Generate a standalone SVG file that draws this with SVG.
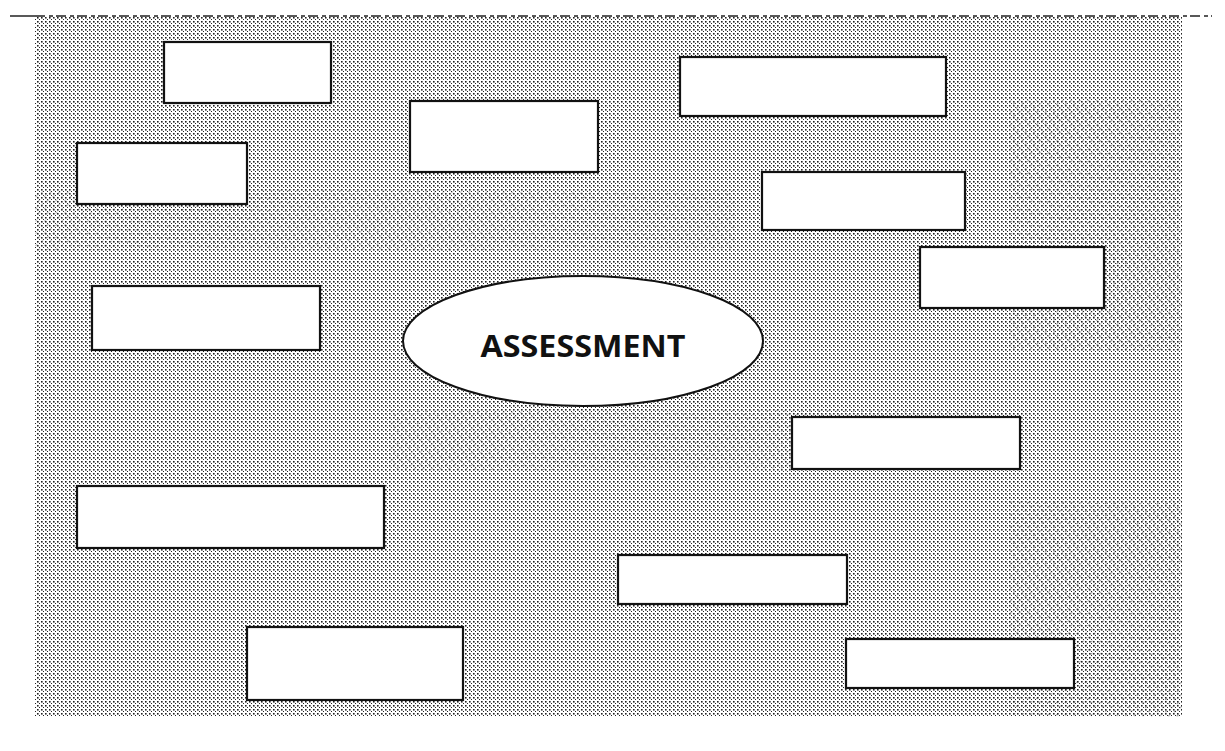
<svg xmlns="http://www.w3.org/2000/svg" width="1225" height="751" viewBox="0 0 1225 751">
  <style>
    .box { fill: #ffffff; stroke: #111111; stroke-width: 2.2; }
    .ell { fill: #ffffff; stroke: #111111; stroke-width: 2; }
    .lbl { font-family: "Open Sans", "Liberation Sans", sans-serif; font-weight: bold; font-size: 30px; fill: #111111; }
  </style>
  <defs>
    <pattern id="dots" x="0" y="0" width="4" height="4" patternUnits="userSpaceOnUse">
      <rect x="1" y="1" width="1.6" height="1.6" fill="#222222"/>
      <rect x="3" y="3" width="1.6" height="1.6" fill="#222222"/>
    </pattern>
    <pattern id="dash" x="0" y="0" width="7" height="5" patternUnits="userSpaceOnUse" patternTransform="rotate(-35)">
      <rect x="0" y="1" width="2.4" height="1.2" fill="#222222"/>
    </pattern>
  </defs>
  <rect width="1225" height="751" fill="#ffffff"/>
  <g id="background">
    <rect x="35" y="17" width="1147" height="700" fill="url(#dots)"/>
    <rect x="1010" y="100" width="172" height="250" fill="url(#dash)" opacity="0.4"/>
    <rect x="1010" y="500" width="172" height="217" fill="url(#dash)" opacity="0.4"/>
    <rect x="35" y="190" width="700" height="60" fill="url(#dash)" opacity="0.3"/>
    <rect x="390" y="410" width="600" height="60" fill="url(#dash)" opacity="0.3"/>
    <line x1="10" y1="16" x2="35" y2="16" stroke="#222222" stroke-width="1.5"/>
    <line x1="35" y1="16" x2="1212" y2="16" stroke="#222222" stroke-width="1.5" stroke-dasharray="10 4 4 3"/>
  </g>
  <g id="connectors"></g>
  <g id="node-1"><rect class="box" x="164" y="42" width="167" height="61"/></g>
  <g id="node-2"><rect class="box" x="410" y="101" width="188" height="71"/></g>
  <g id="node-3"><rect class="box" x="680" y="57" width="266" height="59"/></g>
  <g id="node-4"><rect class="box" x="77" y="143" width="170" height="61"/></g>
  <g id="node-5"><rect class="box" x="762" y="172" width="203" height="58"/></g>
  <g id="node-6"><rect class="box" x="920" y="247" width="184" height="61"/></g>
  <g id="node-7"><rect class="box" x="92" y="286" width="228" height="64"/></g>
  <g id="node-8"><rect class="box" x="792" y="417" width="228" height="52"/></g>
  <g id="node-9"><rect class="box" x="77" y="486" width="307" height="62"/></g>
  <g id="node-10"><rect class="box" x="618" y="555" width="229" height="49"/></g>
  <g id="node-11"><rect class="box" x="247" y="627" width="216" height="73"/></g>
  <g id="node-12"><rect class="box" x="846" y="639" width="228" height="49"/></g>
  <g id="assessment">
    <ellipse class="ell" cx="583" cy="341" rx="180" ry="65"/>
    <text class="lbl" x="583" y="357" text-anchor="middle" textLength="205" lengthAdjust="spacingAndGlyphs">ASSESSMENT</text>
  </g>
</svg>
